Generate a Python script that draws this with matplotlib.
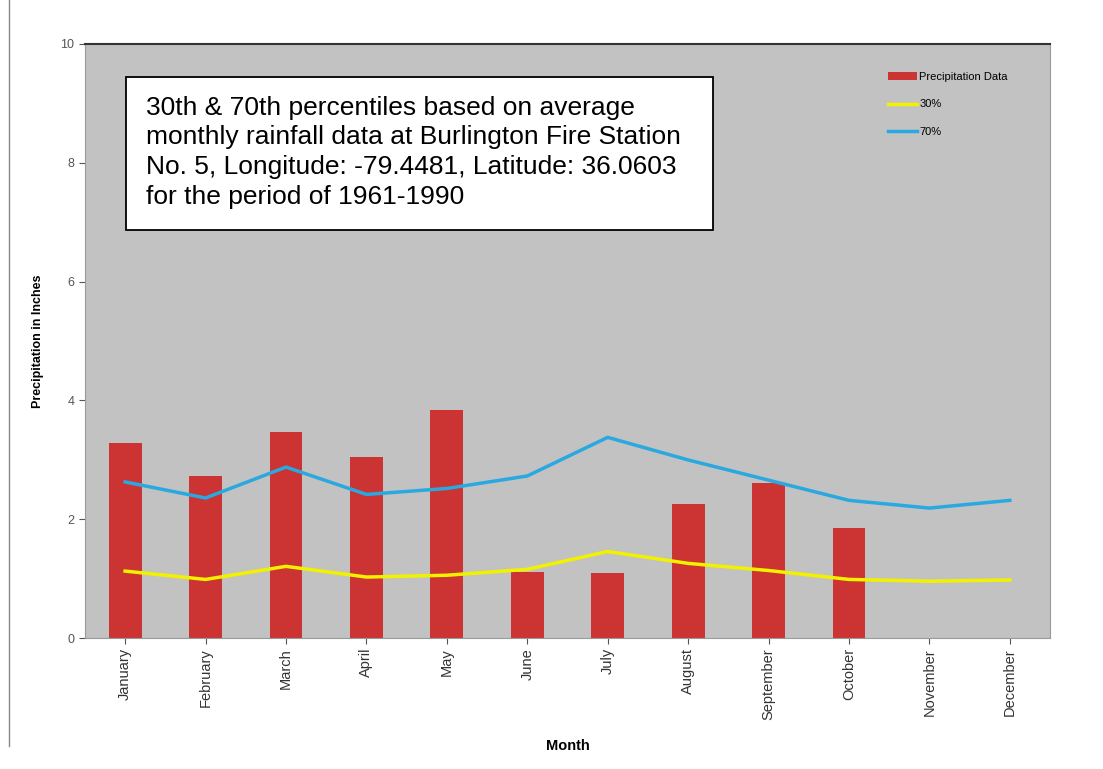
import matplotlib
matplotlib.use("Agg")
import matplotlib.pyplot as plt
from matplotlib.lines import Line2D
from matplotlib.patches import Rectangle
import numpy as np

months = ["January", "February", "March", "April", "May", "June", "July",
          "August", "September", "October", "November", "December"]
precip = [3.28, 2.73, 3.47, 3.05, 3.84, 1.11, 1.09, 2.26, 2.61, 1.85, np.nan, np.nan]
pct30 = [1.13, 0.99, 1.21, 1.03, 1.06, 1.16, 1.46, 1.26, 1.14, 0.99, 0.96, 0.98]
pct70 = [2.63, 2.36, 2.88, 2.42, 2.52, 2.73, 3.38, 3.00, 2.66, 2.32, 2.19, 2.32]

plt.rcParams['font.family'] = ['Liberation Sans', 'DejaVu Sans']

fig = plt.figure(figsize=(11.03, 7.69), dpi=100)
ax = fig.add_axes([0.077, 0.170, 0.875, 0.773])
ax.set_facecolor("#c2c2c2")

x = np.arange(len(months))
bars = ax.bar(x, precip, width=0.41, color="#cc3333", zorder=2)
l30, = ax.plot(x, pct30, color="#f2f200", lw=2.5, zorder=3)
l70, = ax.plot(x, pct70, color="#2aa8e0", lw=2.5, zorder=3)

ax.set_xlim(-0.5, 11.5)
ax.set_ylim(0, 10)
ax.set_yticks([0, 2, 4, 6, 8, 10])
ax.set_xticks(x)
ax.set_xticklabels(months, rotation=90, fontsize=10.5)
ax.tick_params(axis='y', labelsize=9, colors="#555555", length=4)
ax.tick_params(axis='x', length=4, colors="#555555", pad=3)
for lab in ax.get_xticklabels():
    lab.set_color("#333333")

for side in ["right", "left", "bottom"]:
    ax.spines[side].set_color("#999999")
ax.spines["top"].set_color("#333333")
ax.spines["top"].set_linewidth(1.5)

ax.set_ylabel("Precipitation in Inches", fontsize=9, fontweight="bold", labelpad=12)
ax.set_xlabel("Month", fontsize=10.5, fontweight="bold", labelpad=14)

ax.legend([bars, l30, l70], ["Precipitation Data", "30%", "70%"],
          loc="upper left", bbox_to_anchor=(0.822, 0.970), frameon=False,
          fontsize=8, handlelength=2.6, handletextpad=0.2, labelspacing=1.6)

# annotation box
ax.add_patch(Rectangle((0.0425, 0.687), 0.608, 0.257, transform=ax.transAxes,
                       facecolor="white", edgecolor="black", lw=1.3, zorder=5))
ax.text(0.063, 0.913,
        "30th & 70th percentiles based on average\n"
        "monthly rainfall data at Burlington Fire Station\n"
        "No. 5, Longitude: -79.4481, Latitude: 36.0603\n"
        "for the period of 1961-1990",
        transform=ax.transAxes, fontsize=19, va="top", ha="left", zorder=6,
        linespacing=1.3)

fig.add_artist(Line2D([0.008, 0.008], [0.03, 1.0], color="#888888", lw=1))

fig.savefig("out.png", dpi=100)
